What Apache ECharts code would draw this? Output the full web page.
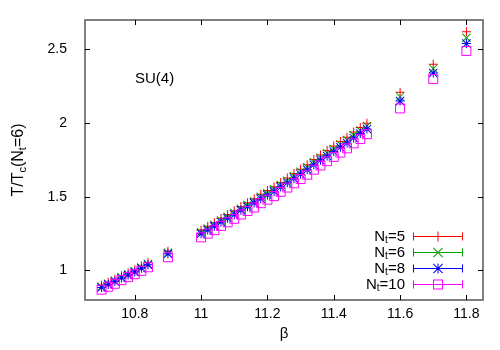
<!DOCTYPE html>
<html>
<head>
<meta charset="utf-8">
<script src="https://cdn.jsdelivr.net/npm/echarts@6/dist/echarts.min.js"></script>
<style>
  html, body { margin: 0; padding: 0; background: #fff; }
  #chart { width: 500px; height: 350px; }
</style>
</head>
<body>
<div id="chart"></div>
<script>
// beta values (x)
const betas = [
  10.70, 10.72, 10.74, 10.76, 10.78, 10.80, 10.82, 10.84,
  10.90,
  11.00, 11.02, 11.04, 11.06, 11.08, 11.10, 11.12, 11.14, 11.16, 11.18, 11.20, 11.22, 11.24,
  11.26, 11.28, 11.30, 11.32, 11.34, 11.36, 11.38, 11.40, 11.42, 11.44, 11.46, 11.48, 11.50,
  11.60, 11.70, 11.80
];
// T/Tc(Nt=6) for each Nt
const nt5 = [
  0.900, 0.920, 0.940, 0.965, 0.985, 1.005, 1.030, 1.055,
  1.130,
  1.275, 1.300, 1.325, 1.355, 1.380, 1.405, 1.435, 1.460, 1.487, 1.517, 1.543, 1.568, 1.598,
  1.628, 1.658, 1.688, 1.718, 1.754, 1.784, 1.815, 1.845, 1.875, 1.905, 1.940, 1.970, 2.000,
  2.210, 2.400, 2.620
];
const nt6 = [
  0.890, 0.910, 0.930, 0.955, 0.975, 0.995, 1.020, 1.045,
  1.120,
  1.260, 1.285, 1.310, 1.340, 1.365, 1.390, 1.420, 1.445, 1.470, 1.500, 1.525, 1.550, 1.580,
  1.610, 1.640, 1.670, 1.700, 1.735, 1.765, 1.795, 1.825, 1.855, 1.885, 1.920, 1.950, 1.980,
  2.180, 2.370, 2.580
];
const nt8 = [
  0.885, 0.905, 0.925, 0.950, 0.970, 0.990, 1.015, 1.040,
  1.113,
  1.250, 1.275, 1.300, 1.330, 1.354, 1.379, 1.409, 1.433, 1.458, 1.487, 1.512, 1.536, 1.566,
  1.595, 1.625, 1.654, 1.684, 1.718, 1.748, 1.777, 1.807, 1.836, 1.866, 1.900, 1.930, 1.960,
  2.150, 2.340, 2.540
];
const nt10 = [
  0.870, 0.890, 0.910, 0.935, 0.955, 0.975, 0.998, 1.022,
  1.090,
  1.225, 1.250, 1.274, 1.303, 1.327, 1.351, 1.380, 1.404, 1.428, 1.457, 1.481, 1.505, 1.534,
  1.563, 1.592, 1.621, 1.650, 1.684, 1.713, 1.742, 1.771, 1.800, 1.829, 1.863, 1.893, 1.925,
  2.100, 2.300, 2.490
];
const xTicks = [10.8, 11, 11.2, 11.4, 11.6, 11.8];
const yTicks = [1, 1.5, 2, 2.5];

const names = ['Nt=5', 'Nt=6', 'Nt=8', 'Nt=10'];
const colors = ['#ff0000', '#00a000', '#0000ff', '#ff00ff'];

const pts = (ys) => betas.map((b, i) => [b, ys[i]]);

// point symbols (gnuplot style)
const plusPath = 'path://M4,0H5V9H4Z M0,4H9V5H0Z';
const crossPath = 'path://M0,0.7L0.7,0L9,8.3L8.3,9Z M8.3,0L9,0.7L0.7,9L0,8.3Z';
const starPath = 'path://M4,0H5V9H4Z M0,4H9V5H0Z M0,0.7L0.7,0L9,8.3L8.3,9Z M8.3,0L9,0.7L0.7,9L0,8.3Z';

// legend samples: error bar with caps and the point symbol in the middle
const barBase = 'M0,1H1V9H0Z M49,1H50V9H49Z M0,4.5H50V5.5H0Z ';
const legendIcons = [
  'path://' + barBase + 'M24.5,0H25.5V10H24.5Z',
  'path://' + barBase + 'M20,0.7L20.7,0L30,9.3L29.3,10Z M29.3,0L30,0.7L20.7,10L20,9.3Z',
  'path://' + barBase + 'M24.5,0H25.5V10H24.5Z M20,0.7L20.7,0L30,9.3L29.3,10Z M29.3,0L30,0.7L20.7,10L20,9.3Z',
  'path://' + barBase + 'M20,0H30V1H20Z M20,9H30V10H20Z M20,0H21V10H20Z M29,0H30V10H29Z'
];

const font = 'Liberation Sans';
const chart = echarts.init(document.getElementById('chart'));

const frameLine = { show: true, lineStyle: { color: '#808080', width: 2 } };
const innerTick = { inside: true, length: 5, lineStyle: { color: '#000', width: 1 } };

const option = {
  animation: false,
  backgroundColor: '#fff',
  grid: { left: 85, right: 17, top: 20, bottom: 50 },
  graphic: [{
    type: 'text', left: 135, top: 71,
    style: { text: 'SU(4)', fontSize: 15, fontFamily: font, fill: '#000' }
  }],
  legend: {
    orient: 'vertical',
    right: 37,
    top: 229,
    padding: 0,
    align: 'right',
    itemWidth: 50,
    itemHeight: 10,
    itemGap: 0,
    symbolKeepAspect: false,
    data: names.map((n, i) => ({
      name: n,
      icon: legendIcons[i],
      itemStyle: { color: colors[i], borderWidth: 0 }
    })),
    formatter: (n) => '{n|N}{s|t}{n|' + n.slice(2) + '}',
    textStyle: {
      fontFamily: font, color: '#000', padding: [0, 3, 0, 0],
      rich: {
        n: { fontSize: 15, fontFamily: font, color: '#000', lineHeight: 17 },
        s: { fontSize: 10, fontFamily: font, color: '#000', padding: [7, 0, 0, 0] }
      }
    }
  },
  xAxis: [{
    type: 'value', min: 10.65, max: 11.85,
    name: 'β', nameLocation: 'middle', nameGap: 24,
    nameTextStyle: { fontSize: 15, fontFamily: font, color: '#000' },
    axisLine: frameLine,
    axisTick: { ...innerTick, customValues: xTicks },
    axisLabel: { customValues: xTicks, fontSize: 14, fontFamily: font, color: '#000', margin: 7 },
    splitLine: { show: false }
  }, {
    type: 'value', position: 'top', min: 10.65, max: 11.85,
    axisLine: frameLine,
    axisTick: { ...innerTick, customValues: xTicks },
    axisLabel: { show: false },
    splitLine: { show: false }
  }],
  yAxis: [{
    type: 'value', min: 0.8, max: 2.7,
    name: '{n|T/T}{s|c}{n|(N}{s|t}{n|=6)}', nameLocation: 'middle', nameGap: 57,
    nameTextStyle: {
      rich: {
        n: { fontSize: 16, fontFamily: font, color: '#000' },
        s: { fontSize: 11, fontFamily: font, color: '#000', padding: [8, 0, 0, 0] }
      }
    },
    axisLine: frameLine,
    axisTick: { ...innerTick, customValues: yTicks },
    axisLabel: { customValues: yTicks, fontSize: 14, fontFamily: font, color: '#000', margin: 18 },
    splitLine: { show: false }
  }, {
    type: 'value', position: 'right', min: 0.8, max: 2.7,
    axisLine: frameLine,
    axisTick: { ...innerTick, customValues: yTicks },
    axisLabel: { show: false },
    splitLine: { show: false }
  }],
  series: [
    { name: names[0], type: 'scatter', data: pts(nt5), symbol: plusPath, symbolSize: 9,
      itemStyle: { color: colors[0], opacity: 1 } },
    { name: names[1], type: 'scatter', data: pts(nt6), symbol: crossPath, symbolSize: 9,
      itemStyle: { color: colors[1], opacity: 1 } },
    { name: names[2], type: 'scatter', data: pts(nt8), symbol: starPath, symbolSize: 9,
      itemStyle: { color: colors[2], opacity: 1 } },
    { name: names[3], type: 'scatter', data: pts(nt10), symbol: 'rect', symbolSize: 9,
      itemStyle: { color: 'rgba(0,0,0,0)', borderColor: colors[3], borderWidth: 1, opacity: 1 } }
  ]
};

chart.setOption(option);
</script>
</body>
</html>
